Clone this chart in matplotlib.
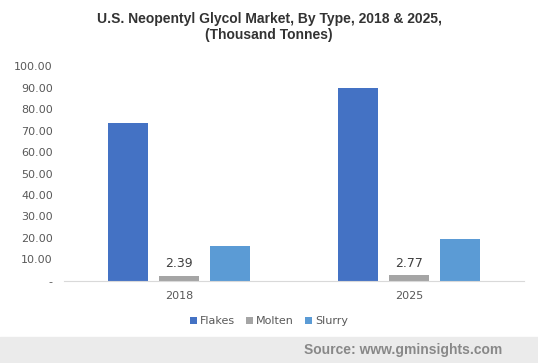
import numpy as np
import matplotlib
matplotlib.use("Agg")
import matplotlib.pyplot as plt

# data
years = ["2018", "2025"]
flakes = [73.5, 89.8]
molten = [2.39, 2.77]
slurry = [16.3, 19.5]
series_names = ["Flakes", "Molten", "Slurry"]
colors = ["#4472c4", "#a5a5a5", "#5b9bd5"]
yticks = [0, 10, 20, 30, 40, 50, 60, 70, 80, 90, 100]

fig = plt.figure(figsize=(5.38, 3.63), dpi=100)
ax = fig.add_axes([0.119, 0.226, 0.855, 0.592])

x = np.arange(len(years))
w = 0.174
off = 0.222
for i, (vals, name, c) in enumerate(zip([flakes, molten, slurry], series_names, colors)):
    ax.bar(x + (i - 1) * off, vals, width=w, color=c, label=name, zorder=2)

# labels on the molten bars only
for xi, v in zip(x, molten):
    ax.text(xi, v + 2.5, f"{v:.2f}", ha="center", va="bottom",
            fontsize=9, color="#404040", family="DejaVu Sans")

ax.set_xlim(-0.5, 1.5)
ax.set_ylim(0, 100)
ax.set_yticks(yticks)
ax.set_yticklabels(["-" if t == 0 else f"{t:.2f}" for t in yticks])
ax.set_xticks(x)
ax.set_xticklabels(years)
for s in ["top", "right", "left"]:
    ax.spines[s].set_visible(False)
ax.spines["bottom"].set_color("#d9d9d9")
ax.tick_params(axis="both", length=0, labelsize=8, labelcolor="#595959")
ax.tick_params(axis="y", pad=8)
ax.tick_params(axis="x", pad=7)

fig.text(0.5, 0.967, "U.S. Neopentyl Glycol Market, By Type, 2018 & 2025,\n(Thousand Tonnes)",
         ha="center", va="top", fontsize=10, fontweight="bold", color="#333333",
         family="Liberation Sans", linespacing=1.15)

leg = fig.legend(loc="center", bbox_to_anchor=(0.5, 0.115), ncol=3, frameon=False,
                 fontsize=8, handlelength=0.6, handleheight=0.6, handletextpad=0.3,
                 columnspacing=1.0)
for t in leg.get_texts():
    t.set_color("#595959")

# footer band
fig.patches.append(plt.Rectangle((0, 0), 1, 0.072, transform=fig.transFigure,
                                 color="#ebebeb", zorder=0))
fig.text(0.933, 0.036, "Source: www.gminsights.com", ha="right", va="center",
         fontsize=10, fontweight="bold", color="#888888", family="Liberation Sans")

fig.savefig("out.png", dpi=100)
